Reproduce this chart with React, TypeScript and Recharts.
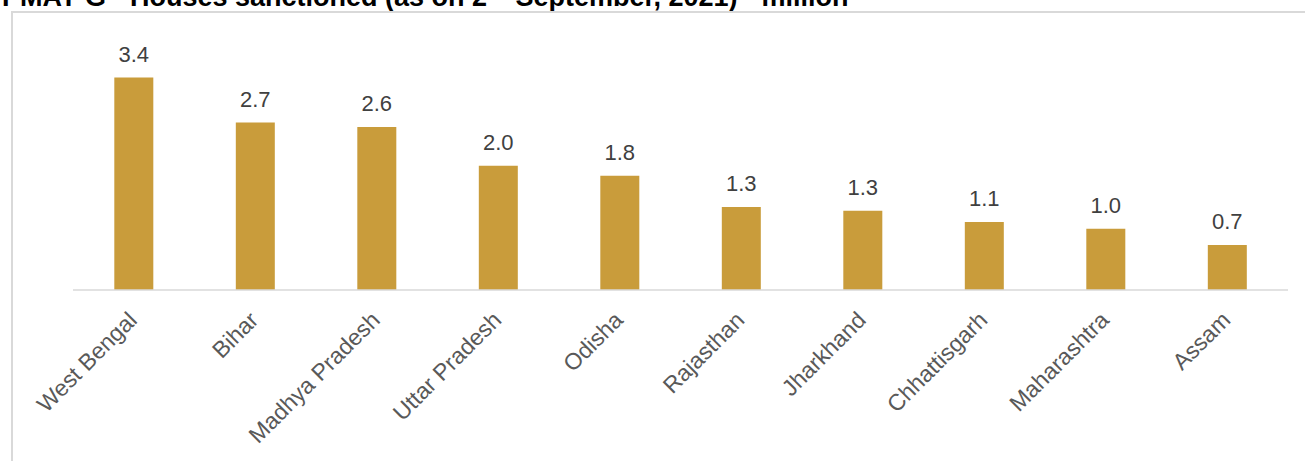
import React from 'react';
import { BarChart, Bar, XAxis, YAxis, LabelList } from 'recharts';

const states = [
  'West Bengal',
  'Bihar',
  'Madhya Pradesh',
  'Uttar Pradesh',
  'Odisha',
  'Rajasthan',
  'Jharkhand',
  'Chhattisgarh',
  'Maharashtra',
  'Assam',
];
const housesSanctioned = [3.4, 2.68, 2.61, 1.99, 1.83, 1.33, 1.27, 1.09, 0.98, 0.72];

const chartData = states.map((state, i) => ({ state, houses: housesSanctioned[i] }));

const FONT = 'Arial, "Liberation Sans", sans-serif';

function StateTick(props: any) {
  const { x, y, payload } = props;
  const tx = x - 7;
  return (
    <text
      x={tx}
      y={y}
      dy="0.71em"
      textAnchor="end"
      transform={`rotate(-45, ${tx}, ${y})`}
      fill="#595959"
      fontSize={23}
      fontFamily={FONT}
    >
      {payload.value}
    </text>
  );
}

export default function App() {
  return (
    <div style={{ position: 'absolute', left: 0, top: 0, width: 1305, height: 461, overflow: 'hidden', background: '#fff' }}>
      <div
        style={{
          position: 'absolute',
          left: 2,
          top: -17,
          fontFamily: FONT,
          fontWeight: 'bold',
          fontSize: 27,
          lineHeight: '28px',
          whiteSpace: 'nowrap',
          color: '#000',
        }}
      >
        PMAY-G - Houses sanctioned (as on 2<sup style={{ fontSize: 17, lineHeight: 0 }}>nd</sup> September, 2021) - million
      </div>
      <div
        style={{
          position: 'absolute',
          left: 11,
          top: 11,
          width: 1320,
          height: 480,
          border: '2px solid #d9d9d9',
        }}
      />
      <div style={{ position: 'absolute', left: 0, top: 0 }}>
        <BarChart
          width={1305}
          height={461}
          data={chartData}
          margin={{ top: 40, right: 17, bottom: 0, left: 73 }}
          barCategoryGap="34%"
        >
          <XAxis
            dataKey="state"
            height={171}
            interval={0}
            tickLine={false}
            tickSize={0}
            tickMargin={20}
            axisLine={{ stroke: '#d9d9d9', strokeWidth: 1.5 }}
            tick={<StateTick />}
          />
          <YAxis hide domain={[0, 4]} />
          <Bar dataKey="houses" fill="#C99C3B" isAnimationActive={false}>
            <LabelList
              dataKey="houses"
              position="top"
              offset={16}
              fill="#404040"
              fontSize={22}
              fontFamily={FONT}
              formatter={(v: any) => Number(v).toFixed(1)}
            />
          </Bar>
        </BarChart>
      </div>
    </div>
  );
}
